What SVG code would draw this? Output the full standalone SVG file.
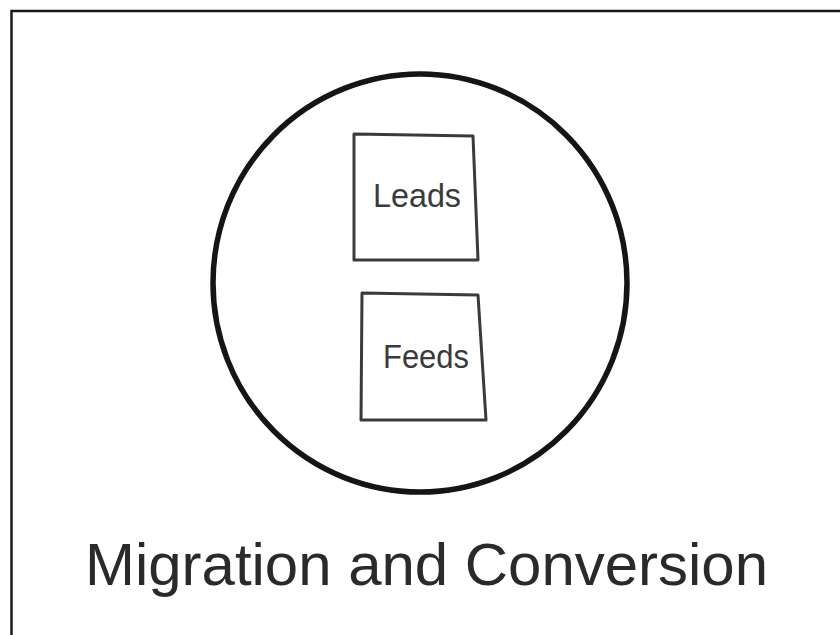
<svg xmlns="http://www.w3.org/2000/svg" width="840" height="635" viewBox="0 0 840 635">
<style>
.frame{fill:none;stroke:#1a1a1a;stroke-width:2.5}
.circ{fill:none;stroke:#151515;stroke-width:5.5}
.box{fill:none;stroke:#3a3a3a;stroke-width:3;stroke-linejoin:round}
.lbl{font-family:"Liberation Sans",Arial,sans-serif;font-size:34px;fill:#3a3a3a}
.title{font-family:"Liberation Sans",Arial,sans-serif;font-size:60px;fill:#2a2a2a}
</style>
<rect width="840" height="635" fill="#fff"/>
<path class="frame" d="M11.5,635 L11.5,11 L840,11"/>
<g id="circle">
<ellipse class="circ" cx="420" cy="283" rx="207" ry="209"/>
</g>
<g id="leads">
<path class="box" d="M354,134 L473,136 L478,260 L354,260 Z"/>
<text class="lbl" x="373" y="207" textLength="88" lengthAdjust="spacingAndGlyphs">Leads</text>
</g>
<g id="feeds">
<path class="box" d="M362,293 L478,295 L486,420 L361,420 Z"/>
<text class="lbl" x="383" y="368" textLength="86" lengthAdjust="spacingAndGlyphs">Feeds</text>
</g>
<g id="connectors"/>
<text class="title" x="85" y="585" textLength="683" lengthAdjust="spacingAndGlyphs">Migration and Conversion</text>
</svg>
